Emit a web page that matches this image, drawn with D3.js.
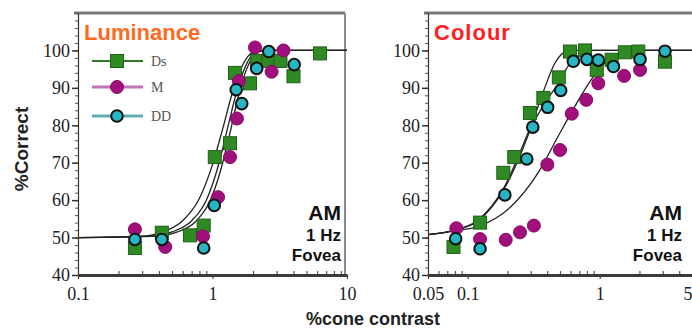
<!DOCTYPE html>
<html>
<head>
<meta charset="utf-8">
<script src="https://cdn.jsdelivr.net/npm/d3@7"></script>
<style>
    html, body { margin: 0; padding: 0; background: #fff; }
    svg { display: block; }
</style>
</head>
<body>
<svg id="chart" width="692" height="331"></svg>
<script>
// observers
const observers = ["Ds", "M", "DD"];

// luminance panel: [contrast %, % correct]
const lumDs = [[0.265, 47.2], [0.42, 51.3], [0.68, 50.6], [0.86, 53.2], [1.04, 71.5], [1.35, 75.2], [1.47, 94], [1.9, 91.2], [2.15, 97.2], [2.6, 97.2], [3.2, 97.2], [4.0, 93.1], [6.3, 99.2]];
const lumM = [[0.265, 52.2], [0.445, 47.5], [0.85, 50.3], [1.1, 60.8], [1.35, 71.5], [1.52, 81.8], [1.57, 91.8], [2.07, 100.8], [2.75, 94.3], [3.37, 100]];
const lumDD = [[0.265, 49.5], [0.42, 49.5], [0.86, 47.2], [1.03, 58.6], [1.5, 89.5], [1.65, 85.8], [2.13, 95.2], [2.62, 99.7], [4.05, 96.2]];

// colour panel
const colDs = [[0.078, 47.5], [0.124, 54], [0.186, 67.3], [0.225, 71.5], [0.296, 83.3], [0.374, 87.3], [0.49, 92.8], [0.595, 99.7], [0.773, 100], [0.95, 94.8], [1.23, 97.5], [1.55, 99.5], [1.96, 99.7], [3.12, 97]];
const colM = [[0.082, 52.5], [0.124, 49.6], [0.194, 49.4], [0.249, 51.4], [0.317, 53.2], [0.401, 69.5], [0.5, 73.4], [0.614, 83.1], [0.79, 86.8], [0.975, 91.2], [1.53, 93.2], [2.02, 94.8]];
const colDD = [[0.081, 49.7], [0.124, 47], [0.191, 61.4], [0.28, 71], [0.311, 79.5], [0.403, 84.8], [0.506, 89.3], [0.631, 97.1], [0.8, 97.6], [0.975, 97.4], [1.27, 95.7], [2.02, 97.6], [3.12, 99.8]];

// fitted psychometric curves
const fitLumDs = [[0.1, 50], [0.3, 50.4], [0.45, 51.8], [0.6, 54.5], [0.8, 60.5], [1.0, 69.5], [1.2, 79.5], [1.4, 88.5], [1.6, 94.5], [1.8, 98], [2.1, 99.8], [2.5, 100], [10, 100]];
const fitLumDD = [[0.1, 50], [0.35, 50.4], [0.5, 51.5], [0.7, 54.5], [0.9, 60], [1.1, 69], [1.3, 79.5], [1.5, 88.5], [1.7, 94.5], [1.9, 98], [2.2, 99.8], [2.6, 100], [10, 100]];
const fitLumM = [[0.1, 50], [0.4, 50.4], [0.55, 51.5], [0.75, 54.3], [0.95, 59.5], [1.15, 68], [1.35, 78], [1.55, 87.5], [1.75, 94], [2.0, 98.3], [2.3, 99.8], [2.8, 100], [10, 100]];

const fitColDs = [[0.05, 50.8], [0.08, 52], [0.12, 54.7], [0.19, 63.6], [0.253, 73.4], [0.321, 82.4], [0.383, 90], [0.456, 96.5], [0.54, 99.5], [0.62, 100], [5, 100]];
const fitColDD = [[0.05, 50.8], [0.08, 52], [0.12, 54.5], [0.19, 63.2], [0.25, 72], [0.3, 79], [0.383, 86], [0.483, 91], [0.576, 95.8], [0.684, 98.6], [0.8, 99.9], [0.9, 100], [5, 100]];
const fitColM = [[0.05, 50.8], [0.08, 51.8], [0.12, 53], [0.213, 58.3], [0.34, 67.2], [0.483, 77], [0.646, 85], [0.863, 92.2], [1.09, 96.6], [1.4, 99.3], [1.8, 100], [5, 100]];

// axis ticks
const yTicks = [40, 50, 60, 70, 80, 90, 100];
const yMinor = d3.range(40, 111, 2);
const lumTicks = [0.1, 1, 10];
const lumMinor = [0.2, 0.3, 0.4, 0.5, 0.6, 0.7, 0.8, 0.9, 2, 3, 4, 5, 6, 7, 8, 9];
const colTicks = [0.05, 0.1, 1, 5];
const colMinor = [0.06, 0.07, 0.08, 0.09, 0.2, 0.3, 0.4, 0.5, 0.6, 0.7, 0.8, 0.9, 2, 3, 4];

const colors = {
    Ds: { fill: "#2f8a23", stroke: "#1f5e17", line: "#2d7d22" },
    M: { fill: "#a00f7c", stroke: "#8a0a68", line: "#c272b6" },
    DD: { fill: "#27b6c4", stroke: "#111111", line: "#5fb0b2" }
};

const svg = d3.select("#chart");
const serif = "'Liberation Serif', 'DejaVu Serif', serif";
const sans = "'Liberation Sans', Arial, sans-serif";

const y = d3.scaleLinear().domain([40, 110]).range([275, 13]);

function drawMarker(g, type, cx, cy) {
    const c = colors[type];
    if (type === "Ds") {
        g.append("rect")
            .attr("x", cx - 6.5).attr("y", cy - 6.5)
            .attr("width", 13).attr("height", 13)
            .style("fill", c.fill).style("stroke", c.stroke).style("stroke-width", "1px");
    } else if (type === "M") {
        g.append("circle")
            .attr("cx", cx).attr("cy", cy).attr("r", 6.5)
            .style("fill", c.fill).style("stroke", c.stroke).style("stroke-width", "1px");
    } else {
        g.append("circle")
            .attr("cx", cx).attr("cy", cy).attr("r", 5.8)
            .style("fill", c.fill).style("stroke", c.stroke).style("stroke-width", "2px");
    }
}

function panel(opts) {
    const x = d3.scaleLog().domain(opts.domain).range(opts.range);
    const g = svg.append("g");
    const x0 = opts.range[0];

    // frame: top and right
    g.append("line")
        .attr("x1", x0 - 4).attr("x2", opts.right)
        .attr("y1", y(110)).attr("y2", y(110))
        .style("stroke", "#7a7a7a").style("stroke-width", "3px");
    g.append("line")
        .attr("x1", opts.right).attr("x2", opts.right)
        .attr("y1", y(110)).attr("y2", y(40))
        .style("stroke", "#8a8a8a").style("stroke-width", "2px");

    // fitted curves
    const line = d3.line()
        .x(d => x(d[0]))
        .y(d => y(d[1]))
        .curve(d3.curveMonotoneX);

    opts.fits.forEach(f => {
        g.append("path")
            .attr("d", line(f))
            .style("fill", "none")
            .style("stroke", "#222")
            .style("stroke-width", "1.3px");
    });

    // data points: Ds first, then M, then DD on top
    opts.data.forEach((set, i) => {
        const pts = g.append("g");
        set.forEach(d => drawMarker(pts, observers[i], x(d[0]), y(d[1])));
    });

    // y axis
    g.append("g")
        .attr("transform", `translate(${x0},0)`)
        .call(d3.axisLeft(y).tickValues(yMinor).tickSize(3).tickFormat(""))
        .call(a => a.select(".domain").remove())
        .selectAll("line").style("stroke", "#555");

    const yAxis = g.append("g")
        .attr("transform", `translate(${x0},0)`)
        .call(d3.axisLeft(y).tickValues(yTicks).tickSize(6).tickPadding(2).tickSizeOuter(0));
    yAxis.select(".domain").style("stroke", "#333").style("stroke-width", "1.2px");
    yAxis.selectAll("line").style("stroke", "#333").style("stroke-width", "1.5px");
    yAxis.selectAll("text")
        .style("font-family", serif).style("font-size", "18px").style("fill", "#222");

    // x axis
    g.append("g")
        .attr("transform", `translate(0,${y(40)})`)
        .call(d3.axisTop(x).tickValues(opts.minor).tickSize(4).tickFormat(""))
        .call(a => a.select(".domain").remove())
        .selectAll("line").style("stroke", "#555").style("stroke-width", "1.2px");

    const xAxis = g.append("g")
        .attr("transform", `translate(0,${y(40)})`)
        .call(d3.axisBottom(x).tickValues(opts.ticks).tickSize(4).tickPadding(8).tickSizeOuter(0)
            .tickFormat(d => String(d)));
    xAxis.select(".domain").style("stroke", "#3a3a3a").style("stroke-width", "3px");
    xAxis.selectAll("line").style("stroke", "#444").style("stroke-width", "1.2px");
    xAxis.selectAll("text")
        .style("font-family", serif).style("font-size", "18px").style("fill", "#222");
    // last label sits on the window edge
    xAxis.selectAll(".tick").filter(d => d === opts.domain[1] && opts.range[1] >= 690)
        .select("text").attr("text-anchor", "end");

    // title
    g.append("text")
        .attr("x", x0 + 6).attr("y", 40)
        .text(opts.title)
        .style("font-family", sans).style("font-weight", "bold")
        .style("font-size", "22px").style("letter-spacing", opts.titleSpacing)
        .style("fill", opts.titleColor);

    // condition label
    const cond = [["AM", 21, 220], ["1 Hz", 17, 241], ["Fovea", 17, 260.5]];
    cond.forEach(c => {
        g.append("text")
            .attr("x", opts.labelRight).attr("y", c[2])
            .attr("text-anchor", "end")
            .text(c[0])
            .style("font-family", sans).style("font-weight", "bold")
            .style("font-size", c[1] + "px").style("fill", "#111");
    });

    return { g, x };
}

panel({
    domain: [0.1, 10], range: [78, 347], right: 345,
    ticks: lumTicks, minor: lumMinor,
    fits: [fitLumDs, fitLumDD, fitLumM],
    data: [lumDs, lumM, lumDD],
    title: "Luminance", titleColor: "#ff6a1e", titleSpacing: "0px",
    labelRight: 341
});

panel({
    domain: [0.05, 5], range: [428, 692], right: 693,
    ticks: colTicks, minor: colMinor,
    fits: [fitColDs, fitColDD, fitColM],
    data: [colDs, colM, colDD],
    title: "Colour", titleColor: "#ff1e1e", titleSpacing: "1px",
    labelRight: 682
});

// legend inside luminance panel
const legendY = [61, 87, 116];
const legend = svg.append("g");
observers.forEach((name, i) => {
    legend.append("line")
        .attr("x1", 92).attr("x2", 143)
        .attr("y1", legendY[i]).attr("y2", legendY[i])
        .style("stroke", colors[name].line)
        .style("stroke-width", name === "Ds" ? "2px" : "3px");
    drawMarker(legend, name, 117, legendY[i]);
    legend.append("text")
        .attr("x", 151).attr("y", legendY[i] + 5)
        .text(name)
        .style("font-family", serif).style("font-size", "14px").style("fill", "#555");
});

// axis titles
svg.append("text")
    .attr("transform", "translate(28,149) rotate(-90)")
    .attr("text-anchor", "middle")
    .text("%Correct")
    .style("font-family", sans).style("font-weight", "bold")
    .style("font-size", "19px").style("fill", "#222");

svg.append("text")
    .attr("x", 373).attr("y", 325)
    .attr("text-anchor", "middle")
    .text("%cone contrast")
    .style("font-family", sans).style("font-weight", "bold")
    .style("font-size", "18px").style("fill", "#222");
</script>
</body>
</html>
